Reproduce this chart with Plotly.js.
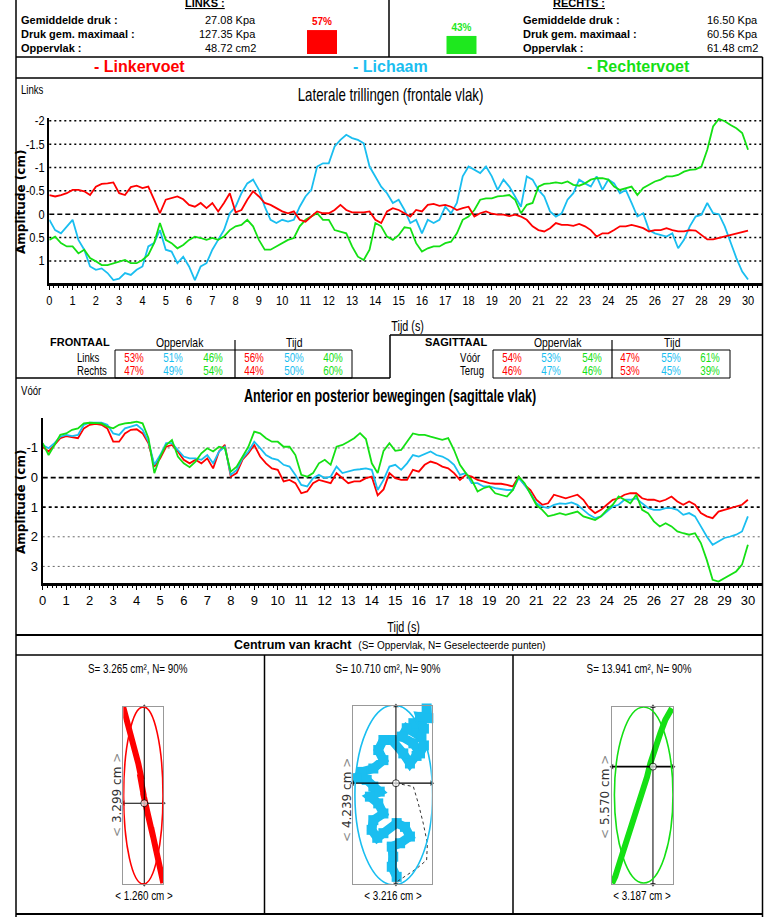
<!DOCTYPE html>
<html><head><meta charset="utf-8">
<script src="https://cdn.plot.ly/plotly-3.0.1.min.js"></script>
<style>html,body{margin:0;padding:0;background:#fff}#chart{width:764px;height:917px}</style>
</head><body><div id="chart"></div>
<script>
// ---------- DATA ----------
const TIME = [
 0,0.25,0.5,0.75, 1,1.25,1.5,1.75, 2,2.25,2.5,2.75, 3,3.25,3.5,3.75, 4,4.25,4.5,4.75,
 5,5.25,5.5,5.75, 6,6.25,6.5,6.75, 7,7.25,7.5,7.75, 8,8.25,8.5,8.75, 9,9.25,9.5,9.75,
 10,10.25,10.5,10.75, 11,11.25,11.5,11.75, 12,12.25,12.5,12.75, 13,13.25,13.5,13.75, 14,14.25,14.5,14.75,
 15,15.25,15.5,15.75, 16,16.25,16.5,16.75, 17,17.25,17.5,17.75, 18,18.25,18.5,18.75, 19,19.25,19.5,19.75,
 20,20.25,20.5,20.75, 21,21.25,21.5,21.75, 22,22.25,22.5,22.75, 23,23.25,23.5,23.75, 24,24.25,24.5,24.75,
 25,25.25,25.5,25.75, 26,26.25,26.5,26.75, 27,27.25,27.5,27.75, 28,28.25,28.5,28.75, 29,29.25,29.5,29.75, 30];

// Frontal (lateral) amplitude, cm
const FRONT_LINKER = [
 -0.41,-0.38,-0.41,-0.45, -0.52,-0.52,-0.49,-0.41, -0.59,-0.65,-0.66,-0.68, -0.45,-0.41,-0.58,-0.61, -0.56,-0.59,-0.31,-0.02,
 -0.31,-0.34,-0.38,-0.32, -0.20,-0.16,-0.24,-0.13, -0.24,-0.06,-0.24,-0.45, -0.04,-0.09,-0.31,-0.49, -0.38,-0.24,-0.20,-0.13,
 -0.06,-0.02,-0.06,0.12, 0.16,0.05,-0.06,-0.02, -0.02,-0.09,-0.20,-0.09, -0.04,-0.04,-0.04,-0.06, 0.12,0.19,-0.06,-0.13,
 -0.09,-0.02,0.05,-0.09, -0.06,-0.20,-0.22,-0.18, -0.20,-0.16,-0.09,-0.13, -0.16,0.05,-0.02,-0.06, -0.01,0.01,0.01,0.04,
 0.01,0.05,0.12,0.26, 0.34,0.37,0.30,0.19, 0.23,0.23,0.25,0.21, 0.26,0.34,0.48,0.41, 0.41,0.34,0.26,0.26,
 0.23,0.26,0.30,0.37, 0.34,0.34,0.30,0.34, 0.37,0.37,0.34,0.35, 0.44,0.54,0.54,0.51, 0.48,0.44,0.42,0.39, 0.35];
const FRONT_LICHAAM = [
 0.12,0.34,0.41,0.26, 0.12,0.55,0.76,1.12, 1.19,1.16,1.26,1.41, 1.38,1.26,1.30,1.19, 1.12,0.69,0.62,0.34,
 0.76,0.80,1.05,0.91, 1.12,1.41,1.12,1.05, 0.76,0.55,0.34,-0.02, -0.16,-0.45,-0.66,-0.74, -0.52,-0.16,0.12,0.19,
 0.12,0.16,0.12,-0.16, -0.38,-0.52,-1.02,-1.09, -1.09,-1.45,-1.59,-1.70, -1.63,-1.59,-1.52,-1.02, -0.81,-0.59,-0.45,-0.24,
 -0.31,-0.09,0.19,0.12, 0.41,0.12,0.19,0.12, -0.16,-0.02,-0.24,-0.81, -1.02,-0.95,-0.88,-1.02, -0.81,-0.52,-0.74,-0.59,
 -0.38,-0.16,-0.81,-0.74, -0.52,-0.38,-0.06,0.05, -0.02,-0.31,-0.45,-0.74, -0.66,-0.59,-0.81,-0.52, -0.74,-0.66,-0.45,-0.52,
 -0.24,0.05,-0.02,0.34, 0.41,0.44,0.48,0.41, 0.73,0.55,0.26,0.05, 0.01,-0.24,-0.02,0.00, 0.26,0.60,0.94,1.23, 1.40];
const FRONT_RECHTER = [
 0.55,0.48,0.62,0.69, 0.69,0.84,0.76,0.94, 1.01,1.09,1.09,1.05, 1.01,0.98,1.05,1.05, 0.98,0.87,0.62,0.19,
 0.55,0.62,0.73,0.66, 0.55,0.48,0.51,0.55, 0.51,0.55,0.48,0.34, 0.26,0.23,0.12,0.26, 0.55,0.76,0.76,0.69,
 0.62,0.55,0.51,0.26, 0.12,0.05,-0.02,0.12, 0.12,0.34,0.37,0.41, 0.69,0.91,0.98,0.76, 0.19,0.26,0.48,0.55,
 0.45,0.28,0.30,0.62, 0.80,0.73,0.69,0.69, 0.62,0.59,0.41,0.12, 0.05,-0.09,-0.31,-0.34, -0.34,-0.38,-0.39,-0.41,
 -0.31,-0.02,-0.20,-0.24, -0.59,-0.65,-0.66,-0.68, -0.66,-0.70,-0.63,-0.61, -0.66,-0.74,-0.77,-0.77, -0.74,-0.59,-0.52,-0.56,
 -0.59,-0.41,-0.56,-0.63, -0.70,-0.74,-0.81,-0.81, -0.84,-0.91,-0.95,-0.96, -1.02,-1.38,-1.88,-2.04, -1.99,-1.91,-1.84,-1.74, -1.38];

// Sagittal (anterior/posterior) amplitude, cm
const SAG_LINKER = [
 -1.04,-0.88,-1.10,-1.33, -1.40,-1.36,-1.33,-1.66, -1.78,-1.81,-1.78,-1.66, -1.21,-1.21,-1.49,-1.61, -1.63,-1.49,-1.16,-0.37,
 -0.65,-1.04,-1.10,-0.88, -0.60,-0.48,-0.60,-0.48, -0.65,-0.31,-0.88,-1.10, -0.03,-0.15,-0.60,-0.82, -1.10,-0.71,-0.48,-0.31,
 -0.26,0.13,0.08,0.19, 0.53,0.47,0.19,0.08, 0.13,0.19,-0.15,0.02, 0.19,0.13,0.13,0.02, -0.03,0.60,0.40,-0.15,
 0.02,0.08,0.08,-0.26, -0.20,-0.43,-0.54,-0.48, -0.37,-0.31,-0.15,0.08, -0.09,-0.03,0.08,0.13, 0.19,0.21,0.21,0.25,
 0.30,-0.03,0.25,0.42, 0.75,0.92,0.87,0.58, 0.64,0.70,0.64,0.58, 0.75,1.03,1.20,1.09, 0.92,0.75,0.70,0.58,
 0.53,0.53,0.70,0.75, 0.75,0.81,0.75,0.64, 0.81,0.92,0.81,0.92, 1.20,1.31,1.37,1.15, 1.09,1.03,0.98,0.92, 0.75];
const SAG_LICHAAM = [
 -1.10,-0.99,-1.16,-1.38, -1.44,-1.40,-1.44,-1.78, -1.85,-1.85,-1.85,-1.78, -1.49,-1.44,-1.66,-1.72, -1.78,-1.61,-1.21,-0.43,
 -0.76,-1.16,-1.16,-0.93, -0.71,-0.65,-0.65,-0.60, -0.76,-0.48,-0.88,-1.04, -0.09,-0.26,-0.65,-0.88, -1.21,-0.99,-0.76,-0.65,
 -0.60,-0.43,-0.37,-0.09, 0.25,0.30,0.02,-0.09, 0.02,-0.03,-0.37,-0.15, -0.20,-0.26,-0.28,-0.31, -0.26,0.42,0.08,-0.37,
 -0.43,-0.26,-0.48,-0.76, -0.71,-0.80,-0.88,-0.76, -0.71,-0.60,-0.43,-0.09, -0.15,0.19,0.19,0.30, 0.30,0.36,0.39,0.42,
 0.42,0.02,0.25,0.53, 0.87,0.98,1.03,0.92, 0.87,0.89,0.84,0.92, 1.09,1.26,1.37,1.31, 1.15,0.98,0.92,0.75,
 0.75,0.70,0.87,1.03, 1.09,1.09,1.03,1.03, 1.09,1.26,1.20,1.31, 1.65,1.99,2.27,2.16, 2.04,1.99,1.93,1.82, 1.31];
const SAG_RECHTER = [
 -1.16,-0.76,-1.10,-1.44, -1.49,-1.61,-1.66,-1.83, -1.85,-1.85,-1.83,-1.72, -1.66,-1.78,-1.83,-1.85, -1.89,-1.83,-1.33,-0.15,
 -0.71,-1.10,-1.27,-0.71, -0.48,-0.35,-0.54,-0.82, -0.99,-0.88,-1.04,-0.99, -0.20,-0.37,-0.71,-1.04, -1.55,-1.49,-1.33,-1.21,
 -1.21,-1.04,-1.04,-0.76, -0.09,-0.03,-0.15,-0.48, -0.60,-0.43,-1.04,-1.10, -1.21,-1.33,-1.50,-1.30, -0.48,-0.15,-0.90,-1.16,
 -0.90,-0.93,-1.21,-1.49, -1.44,-1.44,-1.38,-1.33, -1.27,-1.33,-0.93,-0.43, -0.15,0.08,0.47,0.36, 0.30,0.53,0.58,0.64,
 0.42,-0.03,0.19,0.58, 0.92,1.09,1.31,1.26, 1.20,1.26,1.20,1.15, 1.31,1.37,1.43,1.31, 1.09,0.92,0.64,0.75,
 0.87,0.58,1.09,1.20, 1.48,1.65,1.54,1.65, 1.82,1.88,1.93,1.88, 2.21,2.78,3.45,3.51, 3.39,3.28,3.17,2.94, 2.27];

const FRONT_TICKVALS = [-2,-1.5,-1,-0.5,0,0.5,1];
const FRONT_TICKTEXT = ['-2','-1.5','-1','-0.5','0','0.5','1'];
const SAG_TICKVALS = [-1,0,1,2,3];
const SAG_TICKTEXT = ['-1','0','1','2','3'];

// header
const FOOT_SHARE = [57,43];           // % load left / right
const LEFT_STATS_LABELS = ['Gemiddelde druk :','Druk gem. maximaal :','Oppervlak :'];
const LEFT_STATS_VALUES = ['27.08 Kpa','127.35 Kpa','48.72 cm2'];
const RIGHT_STATS_VALUES = ['16.50 Kpa','60.56 Kpa','61.48 cm2'];
const SERIES_NAMES = ['- Linkervoet','- Lichaam','- Rechtervoet'];

// tables
const FRONT_ROWS = ['Links','Rechts'];
const FRONT_OPP = [[53,51,46],[47,49,54]];
const FRONT_TIJD = [[56,50,40],[44,50,60]];
const SAG_ROWS = ['Vóór','Terug'];
const SAG_OPP = [[54,53,54],[46,47,46]];
const SAG_TIJD = [[47,55,61],[53,45,39]];

// centre of pressure panels (cm)
const PANEL_TITLES = ['S= 3.265 cm², N= 90%','S= 10.710 cm², N= 90%','S= 13.941 cm², N= 90%'];
const PANEL_W = [1.260, 3.216, 3.187];
const PANEL_H = [3.299, 4.239, 5.570];
const P1_X = [-0.02,0.08,0.16,0.12,0.31,0.40,0.47,0.58,0.52,0.65,0.72,0.62,0.79,0.94,0.88,1.02,1.10,1.05,1.20,1.26];
const P1_Y = [3.33,3.12,2.93,2.98,2.62,2.40,2.25,1.94,2.05,1.63,1.40,1.70,1.26,0.88,1.05,0.68,0.51,0.58,0.20,0.02];
const P2_X = [3.01,3.08,2.74,2.90,2.47,2.80,2.20,2.00,2.47,2.74,2.90,2.60,2.33,2.06,1.59,1.25,1.04,1.25,0.84,0.37,
              0.16,0.57,0.84,1.10,0.70,1.04,1.25,0.84,0.77,1.00,1.25,1.79,2.13,2.33,1.93,1.59,1.65,1.59,1.79];
const P2_Y = [4.18,3.95,3.98,3.70,3.83,3.50,3.71,3.51,3.35,3.11,3.30,3.05,2.87,3.11,3.43,3.43,3.19,2.95,2.75,2.67,
              2.52,2.48,2.32,2.20,2.08,1.92,1.68,1.52,1.29,1.10,1.21,1.45,1.36,1.13,0.97,0.89,0.65,0.41,0.17];
const P2_DASH_X = [1.76,2.47,2.67,2.87,3.04,3.01,2.61,2.20,1.79];
const P2_DASH_Y = [2.40,2.32,1.92,1.45,0.97,0.57,0.37,0.21,0.05];
const P3_X = [0.00,0.17,0.44,0.78,1.04,1.31,1.57,1.83,2.00,2.26,2.52,2.78,3.13];
const P3_Y = [0.03,0.24,0.76,1.39,1.81,2.33,2.85,3.37,3.79,4.31,4.73,5.15,5.52];
const P_ELLIPSE = [[0.63,1.65,0.62,1.645],[1.67,2.12,1.58,2.14],[1.656,2.80,1.53,2.76]]; // cx, cy, rx, ry
const P_CENTER = [[0.661,1.506],[1.76,2.40],[2.14,3.69]];

// ---------- LAYOUT HELPERS ----------
const W = 764, H = 917;
const X = p => p / W;
const Y = p => 1 - p / H;
const RED = '#ff0000', CYAN = '#1abef0', GREEN = '#14e014';
const COLORS = [RED, CYAN, GREEN];
const NARROW = '"Liberation Sans",Arial,sans-serif';
const SANS = '"Liberation Sans",Arial,sans-serif';
const DEJAVU = '"DejaVu Sans",Verdana,sans-serif';

const shapes = [];
const annotations = [];
const CONDENSE = [];
function seg(x0, y0, x1, y1, w, color) {
  shapes.push({type:'line', xref:'paper', yref:'paper', x0:X(x0), y0:Y(y0), x1:X(x1), y1:Y(y1),
    line:{color:color || '#000', width:w || 1.5}});
}
function box(x0, y0, x1, y1, w) {
  shapes.push({type:'rect', xref:'paper', yref:'paper', x0:X(x0), y0:Y(y0), x1:X(x1), y1:Y(y1),
    line:{color:'#000', width:w || 1}});
}
function label(text, x, y, o) {
  o = o || {};
  annotations.push({text:text, x:X(x), y:Y(y), xref:'paper', yref:'paper', showarrow:false,
    xanchor:o.anchor || 'center', yanchor:'middle', textangle:o.angle || 0, borderpad:0,
    font:{family:o.family || NARROW, size:o.size || 12, color:o.color || '#000', weight:o.weight || 'normal'}});
  if (o.sx) CONDENSE.push([annotations.length - 1, o.sx, o.anchor || 'center']);
}
function gridLine(axis, val, color, width, dash) {
  shapes.push({type:'line', xref:'x' + axis + ' domain', yref:'y' + axis, x0:0, x1:1, y0:val, y1:val,
    layer:'below', line:{color:color, width:width, dash:dash}});
}

// ---------- FRAME ----------
seg(16, 0, 16, 917);
seg(762.5, 57, 762.5, 917);
seg(389, 0, 389, 57);
seg(16, 57, 762.5, 57);
seg(16, 78, 762.5, 78);
seg(16, 378, 390, 378);
seg(390, 335, 390, 378);
seg(390, 335, 762.5, 335);
seg(16, 635, 762.5, 635, 2);
seg(16, 655, 762.5, 655);
seg(264.5, 655, 264.5, 914);
seg(513, 655, 513, 914);
seg(16, 914, 762.5, 914, 2);

// ---------- HEADER ----------
label('<span style="text-decoration:underline">LINKS :</span>', 205, 3, {family:SANS, size:11, weight:'bold'});
label('<span style="text-decoration:underline">RECHTS :</span>', 579, 3, {family:SANS, size:11, weight:'bold'});
const statY = [20, 34, 48];
LEFT_STATS_LABELS.forEach((t, i) => {
  label(t, 20, statY[i], {family:SANS, size:11, weight:'bold', anchor:'left'});
  label(t, 522, statY[i], {family:SANS, size:11, weight:'bold', anchor:'left'});
  label(LEFT_STATS_VALUES[i], 257, statY[i], {family:SANS, size:11, anchor:'right'});
  label(RIGHT_STATS_VALUES[i], 759, statY[i], {family:SANS, size:11, anchor:'right'});
});
const nameX = [139, 390, 638];
SERIES_NAMES.forEach((t, i) => label(t, nameX[i], 67, {family:SANS, size:16, weight:'bold', color:COLORS[i]}));

// ---------- FRONTAL ----------
label('Links', 20, 90, {anchor:'left', size:12, sx:0.8});
label('Laterale trillingen (frontale vlak)', 390, 95, {size:18, sx:0.74});
label('Amplitude (cm)', 21, 202, {family:DEJAVU, size:12, weight:'bold', angle:-90});
label('Tijd (s)', 407, 325, {size:15, sx:0.72});
[-2,-1.5,-1,-0.5,0.5,1].forEach(v => gridLine('', v, '#000', 1.5, '2px,3px'));
gridLine('', 0, '#000', 1.5, '5px,3px');

// ---------- TABLES ----------
label('FRONTAAL', 80, 342, {family:SANS, size:11, weight:'bold'});
label('Oppervlak', 180, 342, {size:13, sx:0.8});
label('Tijd', 294, 342, {size:13, sx:0.8});
label('SAGITTAAL', 456, 342, {family:SANS, size:11, weight:'bold'});
label('Oppervlak', 558, 342, {size:13, sx:0.8});
label('Tijd', 672, 342, {size:13, sx:0.8});
box(115, 350, 352, 378);
seg(235, 340, 235, 378, 1.2);
box(493, 350, 730, 378);
seg(612, 340, 612, 378, 1.2);
const rowY = [357.5, 370.5];
const fOppX = [134, 173, 213], fTijdX = [254, 294, 333];
const sOppX = [512, 551, 592], sTijdX = [630, 671, 710];
FRONT_ROWS.forEach((r, i) => {
  label(r, 76, rowY[i], {anchor:'left', size:12, sx:0.8});
  FRONT_OPP[i].forEach((v, j) => label(v + '%', fOppX[j], rowY[i], {size:12, color:COLORS[j], sx:0.82}));
  FRONT_TIJD[i].forEach((v, j) => label(v + '%', fTijdX[j], rowY[i], {size:12, color:COLORS[j], sx:0.82}));
});
SAG_ROWS.forEach((r, i) => {
  label(r, 459, rowY[i], {anchor:'left', size:12, sx:0.8});
  SAG_OPP[i].forEach((v, j) => label(v + '%', sOppX[j], rowY[i], {size:12, color:COLORS[j], sx:0.82}));
  SAG_TIJD[i].forEach((v, j) => label(v + '%', sTijdX[j], rowY[i], {size:12, color:COLORS[j], sx:0.82}));
});

// ---------- SAGITTAL ----------
label('Vóór', 20, 391, {anchor:'left', size:12, sx:0.8});
label('<b>Anterior en posterior bewegingen (sagittale vlak)</b>', 390, 396, {size:18, sx:0.7});
label('Amplitude (cm)', 21, 502, {family:DEJAVU, size:12, weight:'bold', angle:-90});
label('Tijd (s)', 403, 626, {size:15, sx:0.72});
[-1,2,3].forEach(v => gridLine('2', v, '#666', 1, '2px,3px'));
gridLine('2', 1, '#000', 1.6, '3px,3px');
gridLine('2', 0, '#000', 1.8, '5px,3px');

// ---------- CENTRUM VAN KRACHT ----------
label('<b>Centrum van kracht</b>  <span style="font-size:10px">(S= Oppervlak, N= Geselecteerde punten)</span>', 390, 645, {family:SANS, size:12.5});
const titleX = [138, 388, 639];
PANEL_TITLES.forEach((t, i) => label(t, titleX[i], 669, {size:12, sx:0.82}));
const vLabX = [117, 347, 605], vLabY = [795, 800, 797];
const bLabX = [144, 393, 642];
PANEL_H.forEach((h, i) => {
  label('<span style="color:#888">&lt;</span> ' + h.toFixed(3) + ' cm <span style="color:#888">&gt;</span>',
        vLabX[i], vLabY[i], {family:DEJAVU, size:12, color:'#333', angle:-90});
  label('&lt; ' + PANEL_W[i].toFixed(3) + ' cm &gt;', bLabX[i], 896, {size:12, sx:0.82});
});

// ---------- TRACES ----------
const traces = [];
function ts(y, color, xa, ya) {
  traces.push({type:'scatter', mode:'lines', x:TIME, y:y, xaxis:xa, yaxis:ya,
    line:{color:color, width:1.8}, hoverinfo:'skip'});
}
ts(FRONT_LICHAAM, CYAN, 'x', 'y');
ts(FRONT_RECHTER, GREEN, 'x', 'y');
ts(FRONT_LINKER, RED, 'x', 'y');
ts(SAG_LINKER, RED, 'x2', 'y2');
ts(SAG_LICHAAM, CYAN, 'x2', 'y2');
ts(SAG_RECHTER, GREEN, 'x2', 'y2');

// foot load bars
traces.push({type:'bar', x:[0,1], y:FOOT_SHARE, xaxis:'x3', yaxis:'y3', width:0.215,
  marker:{color:[RED, '#1ee81e']}, text:FOOT_SHARE.map(v => v + '%'), textposition:'outside',
  textfont:{family:SANS, size:10, color:[RED, '#1ee81e'], weight:'bold'}, cliponaxis:false, hoverinfo:'skip'});

// COP panels
const PX = [P1_X, P2_X, P3_X], PY = [P1_Y, P2_Y, P3_Y];
const PANEL_AX = ['4', '5', '6'];
PANEL_AX.forEach((a, i) => {
  const xa = 'x' + a, ya = 'y' + a;
  const e = P_ELLIPSE[i];
  shapes.push({type:'circle', xref:xa, yref:ya, x0:e[0]-e[2], x1:e[0]+e[2], y0:e[1]-e[3], y1:e[1]+e[3],
    line:{color:COLORS[i], width:1.6}});
  if (i === 1) {
    traces.push({type:'scatter', mode:'lines+markers', x:PX[i], y:PY[i], xaxis:xa, yaxis:ya,
      line:{color:COLORS[i], width:9}, marker:{symbol:'square', size:10, color:COLORS[i]},
      cliponaxis:false, hoverinfo:'skip'});
    traces.push({type:'scatter', mode:'lines', x:P2_DASH_X, y:P2_DASH_Y, xaxis:xa, yaxis:ya,
      line:{color:'#333', width:1, dash:'3px,3px'}, cliponaxis:false, hoverinfo:'skip'});
  } else {
    traces.push({type:'scatter', mode:'lines', x:PX[i], y:PY[i], xaxis:xa, yaxis:ya,
      line:{color:COLORS[i], width:6}, cliponaxis:false, hoverinfo:'skip'});
  }
  const c = P_CENTER[i];
  traces.push({type:'scatter', mode:'lines', x:[c[0], c[0]], y:[0, PANEL_H[i]], xaxis:xa, yaxis:ya,
    line:{color:'#000', width:1}, cliponaxis:false, hoverinfo:'skip'});
  traces.push({type:'scatter', mode:'lines', x:[0, PANEL_W[i]], y:[c[1], c[1]], xaxis:xa, yaxis:ya,
    line:{color:'#000', width:i === 2 ? 1.8 : 1.2}, cliponaxis:false, hoverinfo:'skip'});
  traces.push({type:'scatter', mode:'markers', x:[c[0], c[0], 0, PANEL_W[i], c[0]],
    y:[PANEL_H[i], 0, c[1], c[1], c[1]], xaxis:xa, yaxis:ya,
    marker:{symbol:['triangle-up','triangle-down','triangle-left','triangle-right','circle'],
      size:[5,5,5,5,7], color:['#000','#000','#000','#000','#fff'], line:{color:'#000', width:[0,0,0,0,1]}},
    cliponaxis:false, hoverinfo:'skip'});
});

// ---------- AXES ----------
const tickFont = {family:NARROW, size:13, color:'#000'};
function timeAxis(x0, y) {
  return {domain:[X(x0), X(762)], range:[0, 30.6], anchor:y, dtick:1, tick0:0, ticks:'outside', ticklen:4,
    tickwidth:1, tickcolor:'#000', showline:true, linewidth:2.5, linecolor:'#000', showgrid:false,
    zeroline:false, tickfont:tickFont, fixedrange:true,
    minor:{dtick:0.2, ticks:'outside', ticklen:2.5, tickwidth:1, tickcolor:'#000', showgrid:false}};
}
const panelBoxes = [[123.3, 706.7, 163.3, 884.3], [352.7, 706, 431.7, 884], [612, 706.7, 673, 884.3]];
const layout = {
  width:W, height:H, margin:{l:0, r:0, t:0, b:0}, paper_bgcolor:'#fff', plot_bgcolor:'rgba(0,0,0,0)',
  showlegend:false, shapes:shapes, annotations:annotations,
  xaxis: timeAxis(49.3, 'y'),
  yaxis: {domain:[Y(283.3), Y(118)], range:[1.48, -2.06], anchor:'x', tickvals:FRONT_TICKVALS,
    ticktext:FRONT_TICKTEXT, showline:true, linewidth:2, linecolor:'#000', showgrid:false, zeroline:false,
    ticks:'', tickfont:tickFont, fixedrange:true},
  xaxis2: timeAxis(42.7, 'y2'),
  yaxis2: {domain:[Y(583.3), Y(418.3)], range:[3.57, -2.0], anchor:'x2', tickvals:SAG_TICKVALS,
    ticktext:SAG_TICKTEXT, showline:true, linewidth:2, linecolor:'#000', showgrid:false, zeroline:false,
    ticks:'', tickfont:tickFont, fixedrange:true},
  xaxis3: {domain:[X(300), X(485)], range:[-0.1577, 1.1685], anchor:'y3', visible:false, fixedrange:true},
  yaxis3: {domain:[Y(54), Y(12)], range:[0, 100], anchor:'x3', visible:false, fixedrange:true}
};
PANEL_AX.forEach((a, i) => {
  const b = panelBoxes[i];
  layout['xaxis' + a] = {domain:[X(b[0]), X(b[2])], range:[0, PANEL_W[i]], anchor:'y' + a, showline:true,
    mirror:true, linecolor:'#999', linewidth:1, showticklabels:false, ticks:'', showgrid:false, zeroline:false, fixedrange:true};
  layout['yaxis' + a] = {domain:[Y(b[3]), Y(b[1])], range:[0, PANEL_H[i]], anchor:'x' + a, showline:true,
    mirror:true, linecolor:'#999', linewidth:1, showticklabels:false, ticks:'', showgrid:false, zeroline:false, fixedrange:true};
});

Plotly.newPlot('chart', traces, layout, {displayModeBar:false, staticPlot:true}).then(() => {
  // horizontally condense the narrow-font texts of the original report
  CONDENSE.forEach(([idx, f, anchor]) => {
    const t = document.querySelector('g.annotation[data-index="' + idx + '"] text.annotation-text');
    if (!t) return;
    const bb = t.getBBox();
    const ax = anchor === 'left' ? bb.x : anchor === 'right' ? bb.x + bb.width : bb.x + bb.width / 2;
    t.setAttribute('transform', 'translate(' + ax + ',0) scale(' + f + ',1) translate(' + (-ax) + ',0)');
  });
  // narrow tick labels
  document.querySelectorAll('.xtick text, .ytick text').forEach(t => {
    const bb = t.getBBox();
    const anchorX = t.getAttribute('text-anchor') === 'end' ? bb.x + bb.width : bb.x + bb.width / 2;
    t.setAttribute('transform', (t.getAttribute('transform') || '') +
      ' translate(' + anchorX + ',0) scale(0.85,1) translate(' + (-anchorX) + ',0)');
  });
});
</script>
</body></html>
